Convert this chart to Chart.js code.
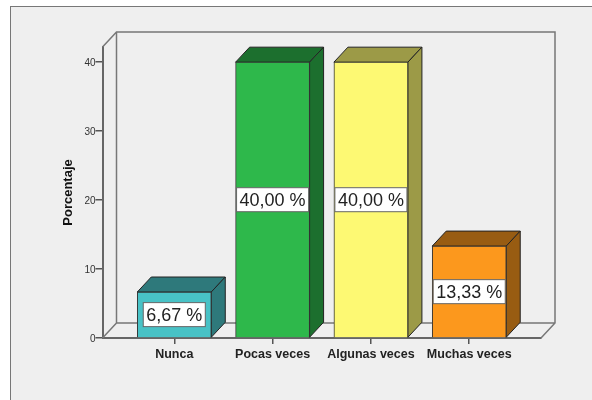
<!DOCTYPE html>
<html>
<head>
<meta charset="utf-8">
<style>
  html, body { margin: 0; padding: 0; background: #fff; overflow: hidden; }
  #panel { position: absolute; left: 10px; top: 6px; width: 600px; height: 420px; background: #efefef; border: 1px solid #777; box-sizing: border-box; }
  #chart { position: absolute; left: 0; top: 0; }
</style>
<script src="https://cdn.jsdelivr.net/npm/chart.js@4/dist/chart.umd.min.js"></script>
</head>
<body>
<div id="panel"></div>
<canvas id="chart" width="592" height="400"></canvas>
<script>
// --- Data ---
const categories = ['Nunca', 'Pocas veces', 'Algunas veces', 'Muchas veces'];
const percentages = [6.67, 40, 40, 13.33];
const valueLabels = ['6,67 %', '40,00 %', '40,00 %', '13,33 %'];
const yTicks = [0, 10, 20, 30, 40];

const frontColors = ['#48c2c6', '#2eb84b', '#fdf973', '#fc981d'];
const shadeColors = ['#2e797b', '#1c6f2e', '#9c9a47', '#985c12'];

// 3D look: how far the back wall is shifted from the front
const depthX = 14;
const depthY = 15;

function poly(ctx, pts, fill, stroke) {
    ctx.beginPath();
    pts.forEach((p, i) => i ? ctx.lineTo(p[0], p[1]) : ctx.moveTo(p[0], p[1]));
    ctx.closePath();
    if (fill) { ctx.fillStyle = fill; ctx.fill(); }
    ctx.strokeStyle = stroke;
    ctx.lineWidth = 1;
    ctx.stroke();
}

const box3d = {
    id: 'box3d',
    // walls and floor, then the top and side of each bar
    beforeDatasetsDraw(chart) {
        const { ctx, chartArea: a } = chart;
        ctx.save();
        ctx.lineWidth = 1.5;
        ctx.strokeStyle = '#777';
        ctx.beginPath();
        ctx.moveTo(a.left, a.top);
        ctx.lineTo(a.left + depthX, a.top - depthY);
        ctx.lineTo(a.right + depthX, a.top - depthY);
        ctx.lineTo(a.right + depthX, a.bottom - depthY);
        ctx.lineTo(a.right, a.bottom);
        ctx.moveTo(a.left + depthX, a.top - depthY);
        ctx.lineTo(a.left + depthX, a.bottom - depthY);
        ctx.lineTo(a.right + depthX, a.bottom - depthY);
        ctx.moveTo(a.left, a.bottom);
        ctx.lineTo(a.left + depthX, a.bottom - depthY);
        ctx.stroke();

        chart.getDatasetMeta(0).data.forEach((bar, i) => {
            const l = bar.x - bar.width / 2;
            const r = bar.x + bar.width / 2;
            const t = bar.y;
            const b = bar.base;
            poly(ctx, [[l, t], [l + depthX, t - depthY], [r + depthX, t - depthY], [r, t]], shadeColors[i], '#222');
            poly(ctx, [[r, t], [r + depthX, t - depthY], [r + depthX, b - depthY], [r, b]], shadeColors[i], '#222');
        });
        ctx.restore();
    },
    // white value boxes, in the middle of each bar
    afterDatasetsDraw(chart) {
        const { ctx } = chart;
        ctx.save();
        ctx.font = '18px "Liberation Sans"';
        ctx.textAlign = 'center';
        ctx.textBaseline = 'middle';
        chart.getDatasetMeta(0).data.forEach((bar, i) => {
            const w = Math.min(ctx.measureText(valueLabels[i]).width + 6, bar.width - 1);
            const h = 24;
            const cy = (bar.y + bar.base) / 2;
            ctx.fillStyle = '#fff';
            ctx.fillRect(bar.x - w / 2, cy - h / 2, w, h);
            ctx.strokeStyle = '#666';
            ctx.lineWidth = 1;
            ctx.strokeRect(bar.x - w / 2, cy - h / 2, w, h);
            ctx.fillStyle = '#222';
            ctx.fillText(valueLabels[i], bar.x, cy + 1);
        });
        ctx.restore();
    }
};

new Chart(document.getElementById('chart').getContext('2d'), {
    type: 'bar',
    data: {
        datasets: [{
            data: percentages.map((v, i) => ({ x: i, y: v })),
            backgroundColor: frontColors,
            borderColor: '#333',
            borderWidth: 1,
            barThickness: 74
        }]
    },
    options: {
        responsive: false,
        animation: false,
        layout: { padding: { top: 47, right: 51, left: 0, bottom: 0 } },
        plugins: { legend: { display: false }, tooltip: { enabled: false } },
        scales: {
            x: {
                type: 'linear',
                offset: false,
                min: -0.73,
                max: 3.73,
                afterBuildTicks: (scale) => { scale.ticks = categories.map((c, i) => ({ value: i })); },
                afterFit: (scale) => { scale.height = 62; },
                grid: { offset: false, drawOnChartArea: false, color: '#555', tickLength: 6, lineWidth: 1.5 },
                border: { color: '#666', width: 2 },
                ticks: {
                    autoSkip: false,
                    maxRotation: 0,
                    color: '#222',
                    padding: 3,
                    font: { family: 'Liberation Sans', size: 12.5, weight: 'bold' },
                    callback: (v) => categories[v]
                }
            },
            y: {
                min: 0,
                max: 42.2,
                afterBuildTicks: (scale) => { scale.ticks = yTicks.map((v) => ({ value: v })); },
                afterFit: (scale) => { scale.width = 102.5; },
                grid: { drawOnChartArea: false, color: '#555', tickLength: 7, lineWidth: 1.5 },
                border: { color: '#666', width: 2 },
                ticks: {
                    color: '#333',
                    padding: 0,
                    labelOffset: 1.5,
                    font: { family: 'Liberation Sans', size: 10 }
                },
                title: {
                    display: true,
                    text: 'Porcentaje',
                    color: '#111',
                    padding: { top: 61, bottom: 0 },
                    font: { family: 'Liberation Sans', size: 13, weight: 'bold' }
                }
            }
        }
    },
    plugins: [box3d]
});
</script>
</body>
</html>
